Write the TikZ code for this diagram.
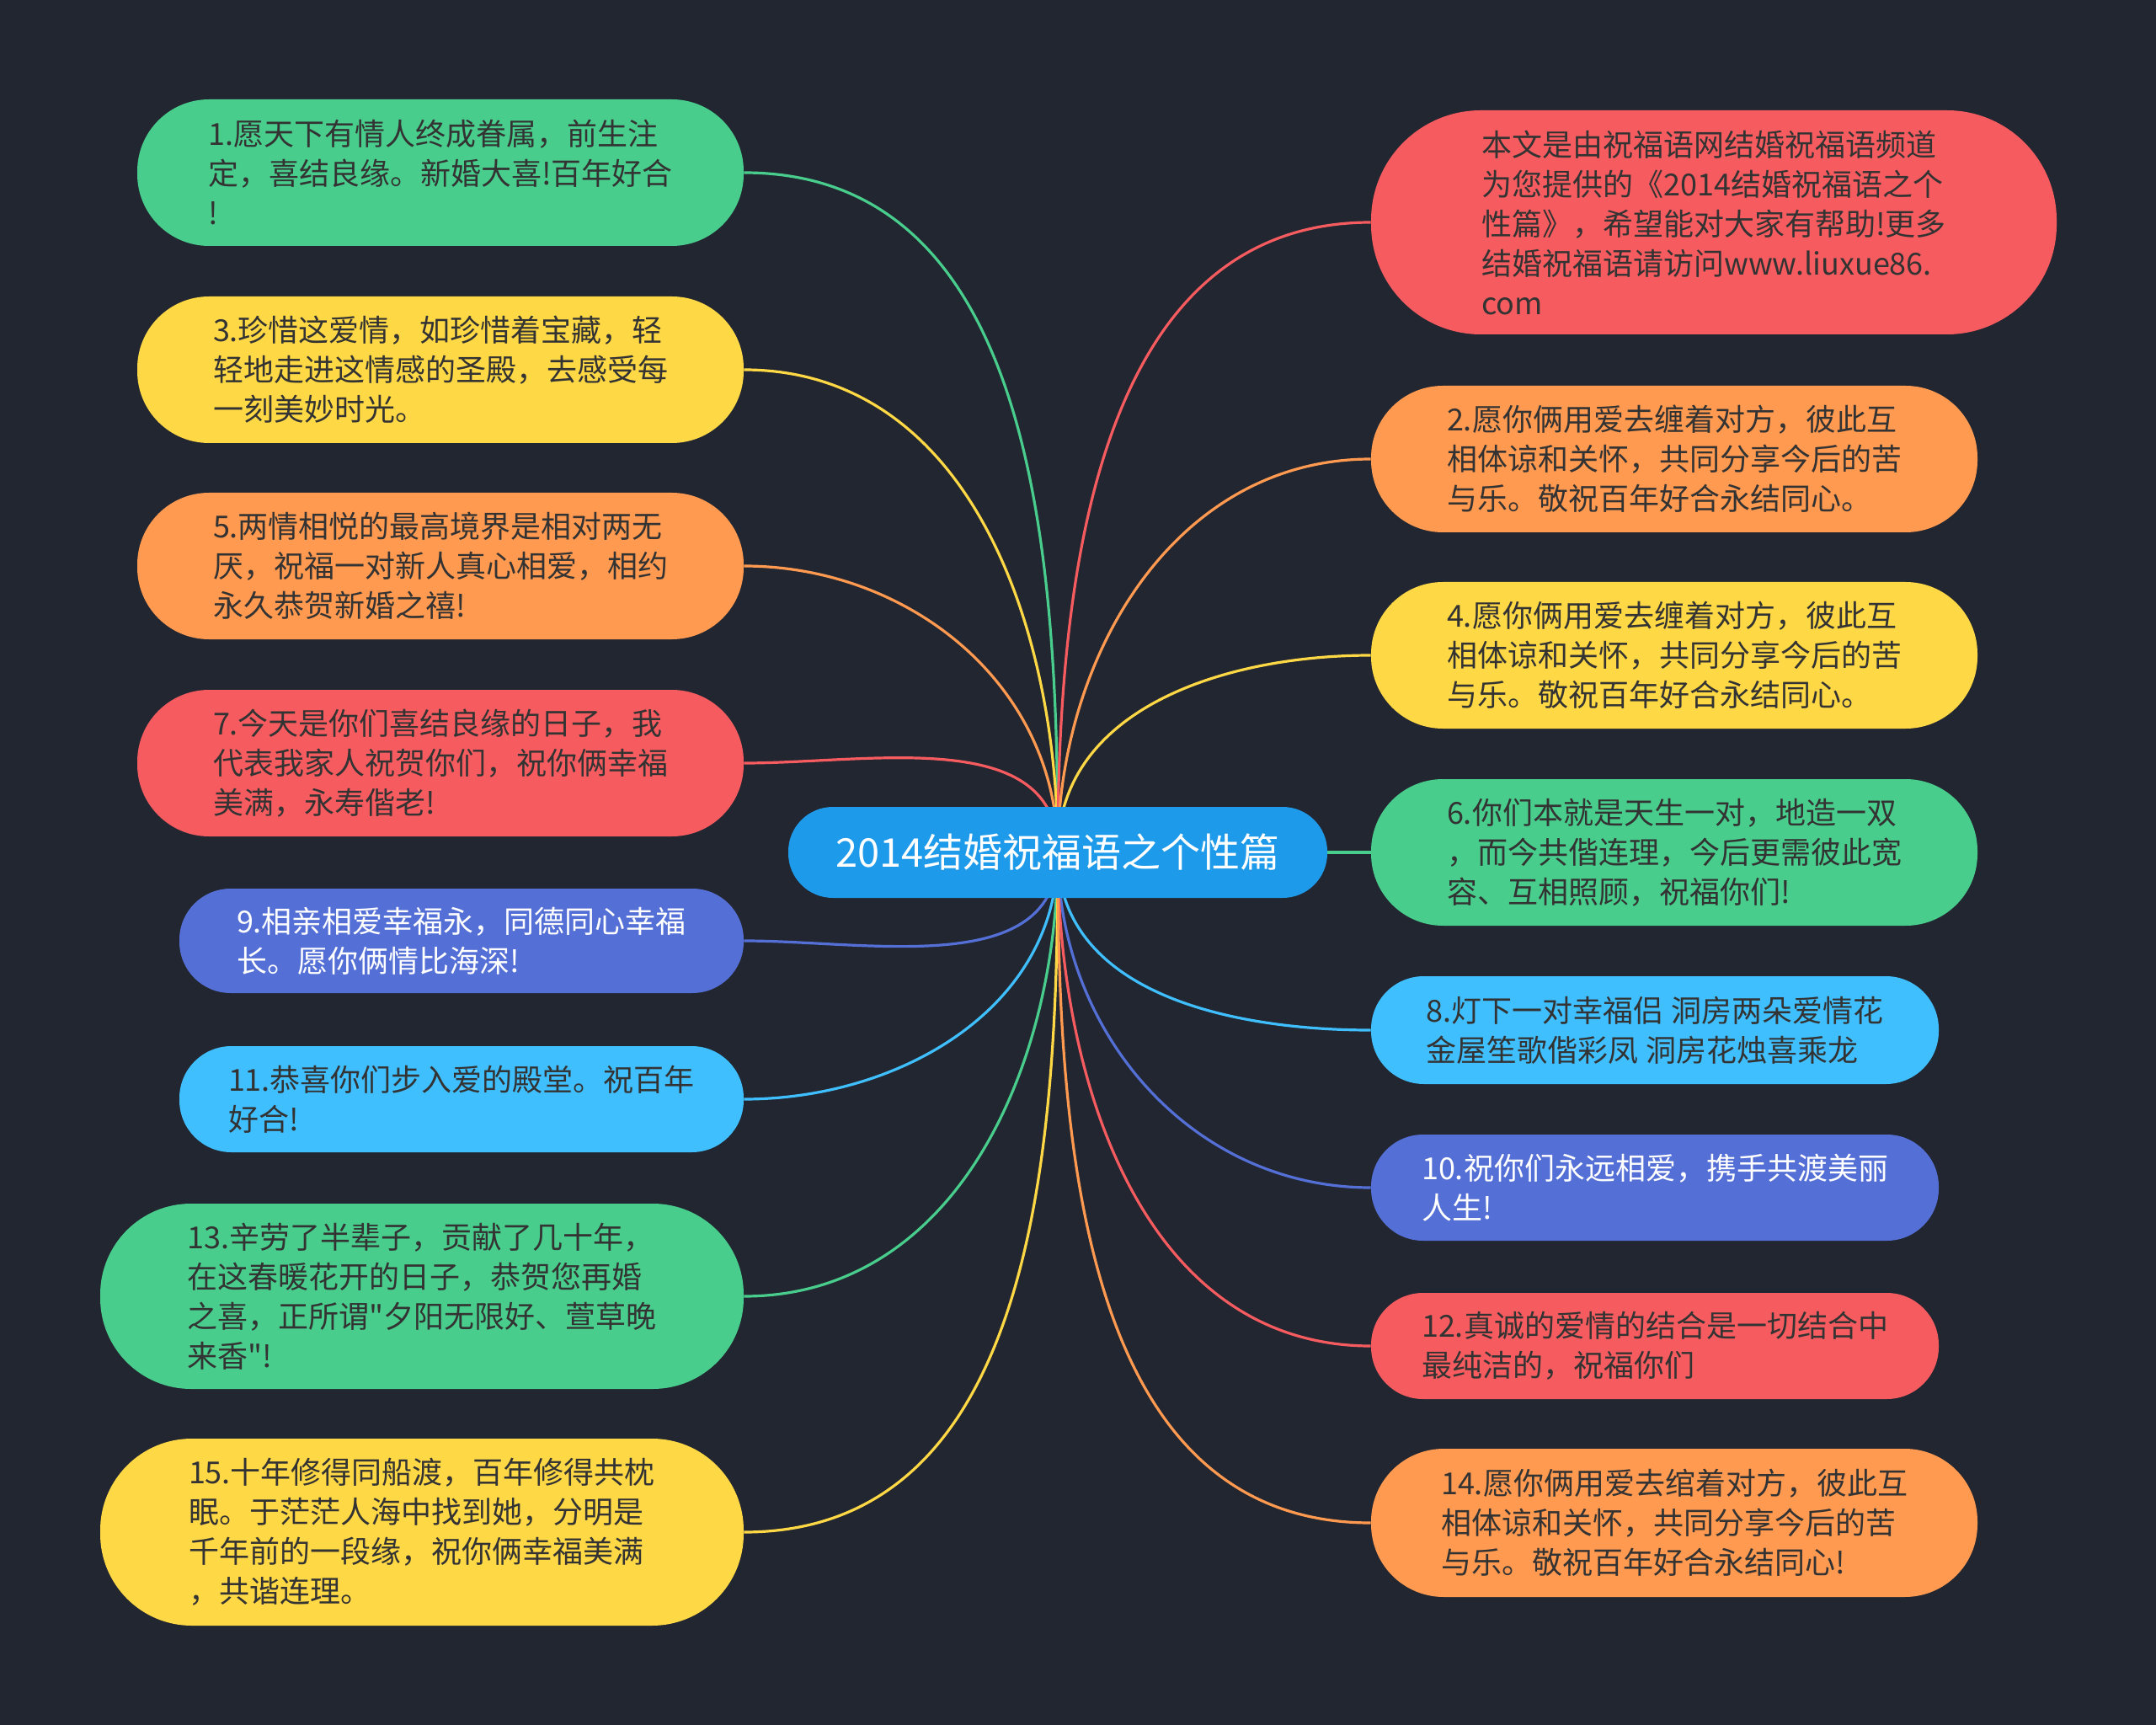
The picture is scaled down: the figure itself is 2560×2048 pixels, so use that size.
\documentclass[tikz,border=0pt]{standalone}
\usepackage{fontspec}
\newfontfamily\cjkfont{Noto Sans CJK SC}
\definecolor{bgdark}{HTML}{222631}
\definecolor{mgreen}{HTML}{48CD8C}
\definecolor{myellow}{HTML}{FFD845}
\definecolor{morange}{HTML}{FF9A50}
\definecolor{mred}{HTML}{F65C5F}
\definecolor{mindigo}{HTML}{546FD6}
\definecolor{mcyan}{HTML}{40BFFF}
\definecolor{mblue}{HTML}{1E9AEB}
\definecolor{inkdark}{HTML}{333333}
\tikzset{
  leaf/.style={align=left, inner sep=0pt, text=inkdark, font=\cjkfont\fontsize{18}{23.5}\selectfont},
  pill/.style 2 args={minimum width=#1, minimum height=#2, rounded corners=0.49*#2},
  link/.style={line width=1.6pt},
}
\begin{document}
\begin{tikzpicture}[x=0.5pt, y=-0.5pt]
\fill[bgdark] (0,0) rectangle (2560,2048);
% left side
\node[leaf, pill={360pt}{87pt}, fill=mgreen] (wish1) at (523,205) {1.愿天下有情人终成眷属，前生注\\定，喜结良缘。新婚大喜!百年好合\\!};
\node[leaf, pill={360pt}{87pt}, fill=myellow] (wish3) at (523,439) {3.珍惜这爱情，如珍惜着宝藏，轻\\轻地走进这情感的圣殿，去感受每\\一刻美妙时光。};
\node[leaf, pill={360pt}{87pt}, fill=morange] (wish5) at (523,672) {5.两情相悦的最高境界是相对两无\\厌，祝福一对新人真心相爱，相约\\永久恭贺新婚之禧!};
\node[leaf, pill={360pt}{87pt}, fill=mred] (wish7) at (523,906) {7.今天是你们喜结良缘的日子，我\\代表我家人祝贺你们，祝你俩幸福\\美满，永寿偕老!};
\node[leaf, pill={335pt}{62pt}, fill=mindigo, text=white] (wish9) at (548,1117) {9.相亲相爱幸福永，同德同心幸福\\长。愿你俩情比海深!};
\node[leaf, pill={335pt}{63pt}, fill=mcyan] (wish11) at (548,1305) {11.恭喜你们步入爱的殿堂。祝百年\\好合!};
\node[leaf, pill={382pt}{110pt}, fill=mgreen] (wish13) at (501,1539) {13.辛劳了半辈子，贡献了几十年，\\在这春暖花开的日子，恭贺您再婚\\之喜，正所谓"夕阳无限好、萱草晚\\来香"!};
\node[leaf, pill={382pt}{111pt}, fill=myellow] (wish15) at (501,1819) {15.十年修得同船渡，百年修得共枕\\眠。于茫茫人海中找到她，分明是\\千年前的一段缘，祝你俩幸福美满\\，共谐连理。};
% right side
\node[leaf, pill={407pt}{133pt}, fill=mred] (intro) at (2035,264) {本文是由祝福语网结婚祝福语频道\\为您提供的《2014结婚祝福语之个\\性篇》，希望能对大家有帮助!更多\\结婚祝福语请访问www.liuxue86.\\com};
\node[leaf, pill={360pt}{87pt}, fill=morange] (wish2) at (1988,545) {2.愿你俩用爱去缠着对方，彼此互\\相体谅和关怀，共同分享今后的苦\\与乐。敬祝百年好合永结同心。};
\node[leaf, pill={360pt}{87pt}, fill=myellow] (wish4) at (1988,778) {4.愿你俩用爱去缠着对方，彼此互\\相体谅和关怀，共同分享今后的苦\\与乐。敬祝百年好合永结同心。};
\node[leaf, pill={360pt}{87pt}, fill=mgreen] (wish6) at (1988,1012) {6.你们本就是天生一对，地造一双\\，而今共偕连理，今后更需彼此宽\\容、互相照顾，祝福你们!};
\node[leaf, pill={337pt}{64pt}, fill=mcyan] (wish8) at (1965,1223) {8.灯下一对幸福侣 洞房两朵爱情花\\金屋笙歌偕彩凤 洞房花烛喜乘龙};
\node[leaf, pill={337pt}{63pt}, fill=mindigo, text=white] (wish10) at (1965,1410) {10.祝你们永远相爱，携手共渡美丽\\人生!};
\node[leaf, pill={337pt}{63pt}, fill=mred] (wish12) at (1965,1598) {12.真诚的爱情的结合是一切结合中\\最纯洁的，祝福你们};
\node[leaf, pill={360pt}{88pt}, fill=morange] (wish14) at (1988,1808) {14.愿你俩用爱去绾着对方，彼此互\\相体谅和关怀，共同分享今后的苦\\与乐。敬祝百年好合永结同心!};
% links
\coordinate (hub) at (1256,1012);
\draw[link, mgreen] (hub) to[out=90, in=0] (wish1.east);
\draw[link, myellow] (hub) to[out=90, in=0] (wish3.east);
\draw[link, morange] (hub) to[out=90, in=0] (wish5.east);
\draw[link, mred] (hub) to[out=90, in=0] (wish7.east);
\draw[link, mindigo] (hub) to[out=-90, in=0] (wish9.east);
\draw[link, mcyan] (hub) to[out=-90, in=0] (wish11.east);
\draw[link, mgreen] (hub) to[out=-90, in=0] (wish13.east);
\draw[link, myellow] (hub) to[out=-90, in=0] (wish15.east);
\draw[link, mred] (hub) to[out=90, in=180] (intro.west);
\draw[link, morange] (hub) to[out=90, in=180] (wish2.west);
\draw[link, myellow] (hub) to[out=90, in=180] (wish4.west);
\draw[link, mgreen] (hub) -- (wish6.west);
\draw[link, mcyan] (hub) to[out=-90, in=180] (wish8.west);
\draw[link, mindigo] (hub) to[out=-90, in=180] (wish10.west);
\draw[link, mred] (hub) to[out=-90, in=180] (wish12.west);
\draw[link, morange] (hub) to[out=-90, in=180] (wish14.west);
% root
\node[pill={320pt}{54pt}, fill=mblue, text=white, inner sep=0pt, font=\cjkfont\fontsize{23.5}{28}\selectfont] (root) at (hub) {2014结婚祝福语之个性篇};
\end{tikzpicture}
\end{document}
